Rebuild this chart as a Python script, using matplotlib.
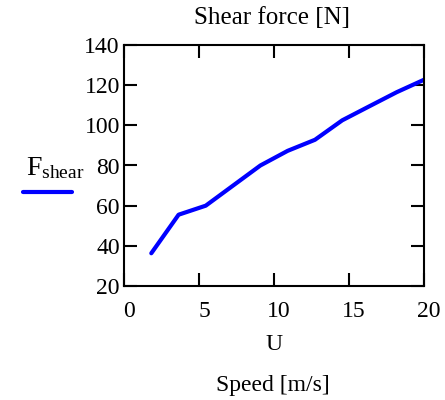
import matplotlib
matplotlib.use('Agg')
import matplotlib.pyplot as plt
from matplotlib.lines import Line2D
from matplotlib.transforms import ScaledTranslation

speed = [1.82, 3.64, 5.45, 7.27, 9.09, 10.91, 12.73, 14.55, 16.36, 18.18, 20.0]
shear = [36.3, 55.5, 60.0, 70.0, 80.0, 87.3, 92.8, 102.5, 109.5, 116.5, 122.7]

plt.rcParams['font.family'] = ['Liberation Serif', 'DejaVu Serif']
plt.rcParams['mathtext.fontset'] = 'custom'
plt.rcParams['mathtext.rm'] = 'Liberation Serif'

fig = plt.figure(figsize=(4.45, 4.0), dpi=100)
ax = fig.add_axes([124/445, 1-286/400, 300/445, 241/400])

ax.plot(speed, shear, color='#0000ff', lw=3, solid_capstyle='round')
ax.set_xlim(0, 20)
ax.set_ylim(20, 140)
ax.set_xticks([0, 5, 10, 15, 20])
ax.set_yticks([20, 40, 60, 80, 100, 120, 140])
ax.tick_params(direction='in', length=9.5, width=1.5, top=True, right=True,
               labelsize=17, pad=3, colors='black')
ax.tick_params(axis='x', pad=11)
for s in ax.spines.values():
    s.set_linewidth(1.5)

# x tick labels sit a little right of their ticks in the original
shift = ScaledTranslation(5/100, 0, fig.dpi_scale_trans)
for lab in ax.get_xticklabels():
    lab.set_transform(lab.get_transform() + shift)

fig.text(272/445, 1-18/400, 'Shear force [N]', ha='center', va='center', fontsize=18)
fig.text(274/445, 1-344/400, 'U', ha='center', va='center', fontsize=17)
fig.text(273/445, 1-385/400, 'Speed [m/s]', ha='center', va='center', fontsize=17)

# legend drawn by hand, to the left of the axes
fig.text(55/445, 1-168/400, r'$\mathregular{F_{shear}}$', ha='center', va='center', fontsize=20)
fig.add_artist(Line2D([23/445, 72/445], [1-192/400, 1-192/400], color='#0000ff', lw=3,
                      solid_capstyle='round'))

fig.savefig('out.png', dpi=100)
